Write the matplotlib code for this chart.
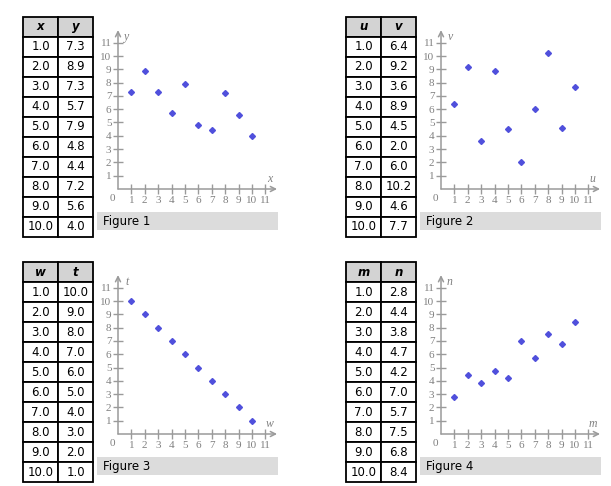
import matplotlib
matplotlib.use("Agg")
import matplotlib.pyplot as plt

x = [1.0, 2.0, 3.0, 4.0, 5.0, 6.0, 7.0, 8.0, 9.0, 10.0]
y = [7.3, 8.9, 7.3, 5.7, 7.9, 4.8, 4.4, 7.2, 5.6, 4.0]
u = [1.0, 2.0, 3.0, 4.0, 5.0, 6.0, 7.0, 8.0, 9.0, 10.0]
v = [6.4, 9.2, 3.6, 8.9, 4.5, 2.0, 6.0, 10.2, 4.6, 7.7]
w = [1.0, 2.0, 3.0, 4.0, 5.0, 6.0, 7.0, 8.0, 9.0, 10.0]
t = [10.0, 9.0, 8.0, 7.0, 6.0, 5.0, 4.0, 3.0, 2.0, 1.0]
m = [1.0, 2.0, 3.0, 4.0, 5.0, 6.0, 7.0, 8.0, 9.0, 10.0]
n = [2.8, 4.4, 3.8, 4.7, 4.2, 7.0, 5.7, 7.5, 6.8, 8.4]

panels = [
    ("x", "y", x, y, "Figure 1"),
    ("u", "v", u, v, "Figure 2"),
    ("w", "t", w, t, "Figure 3"),
    ("m", "n", m, n, "Figure 4"),
]

W, H = 611, 486
fig = plt.figure(figsize=(W / 100, H / 100), dpi=100)
fig.patch.set_facecolor("white")

AXIS = "#9a9a9a"
LABEL = "#808080"


def px_axes(left, top, width, height):
    # pixel box (top-left origin) -> figure axes
    return fig.add_axes([left / W, 1 - (top + height) / H, width / W, height / H])


def draw_panel(ox, oy, xname, yname, xs, ys, caption):
    # table
    tax = px_axes(23 + ox, 17 + oy, 70, 220)
    tax.axis("off")
    rows = [[f"{a:.1f}", f"{b:.1f}"] for a, b in zip(xs, ys)]
    tab = tax.table(cellText=rows, colLabels=[xname, yname],
                    cellLoc="center", bbox=[0, 0, 1, 1])
    tab.auto_set_font_size(False)
    tab.set_fontsize(8.5)
    for (r, c), cell in tab.get_celld().items():
        cell.set_edgecolor("black")
        cell.set_linewidth(1.3)
        if r == 0:
            cell.set_facecolor("#d3d3d3")
            cell.get_text().set_fontweight("bold")
            cell.get_text().set_fontstyle("italic")

    # scatter plot, 0..12 in both directions
    sx, sy = 13.4, 13.3
    ax = px_axes(118 + ox, 189 + oy - 12 * sy, 12 * sx, 12 * sy)
    ax.set_xlim(0, 12)
    ax.set_ylim(0, 12)
    ax.patch.set_alpha(0)
    for s in ax.spines.values():
        s.set_visible(False)
    ax.set_xticks(range(1, 12))
    ax.set_yticks(range(1, 12))
    ax.tick_params(direction="inout", length=6.5, width=1, color=AXIS,
                   labelcolor=LABEL, labelsize=8, pad=1.5)
    for lab in ax.get_xticklabels() + ax.get_yticklabels():
        lab.set_family("Liberation Serif")

    arrow = dict(arrowstyle="->", color=AXIS, lw=1.1, mutation_scale=9,
                 shrinkA=0, shrinkB=0)
    ax.annotate("", xy=(11.87, 0), xytext=(0, 0), arrowprops=arrow,
                annotation_clip=False)
    ax.annotate("", xy=(0, 11.95), xytext=(0, 0), arrowprops=arrow,
                annotation_clip=False)

    ax.plot(xs, ys, linestyle="none", marker="D", markersize=3,
            color="#5050dc", clip_on=False)

    ax.text(-0.45, -0.7, "0", ha="center", va="center", color=LABEL,
            fontsize=8, family="Liberation Serif")
    ax.text(11.3, 0.72, xname, ha="center", va="center", color=LABEL,
            fontsize=8.5, family="Liberation Serif", style="italic")
    ax.text(0.67, 11.4, yname, ha="center", va="center", color=LABEL,
            fontsize=8.5, family="Liberation Serif", style="italic")

    # caption bar
    cax = px_axes(97 + ox, 212 + oy, 181, 18)
    cax.set_facecolor("#dcdcdc")
    cax.set_xticks([])
    cax.set_yticks([])
    for s in cax.spines.values():
        s.set_visible(False)
    cax.text(6 / 181, 0.5, caption, transform=cax.transAxes, ha="left",
             va="center", fontsize=8.5, color="black")


offsets = [(0, 0), (323, 0), (0, 245), (323, 245)]
for (ox, oy), (xn, yn, xs, ys, cap) in zip(offsets, panels):
    draw_panel(ox, oy, xn, yn, xs, ys, cap)

fig.savefig("out.png", dpi=100)
